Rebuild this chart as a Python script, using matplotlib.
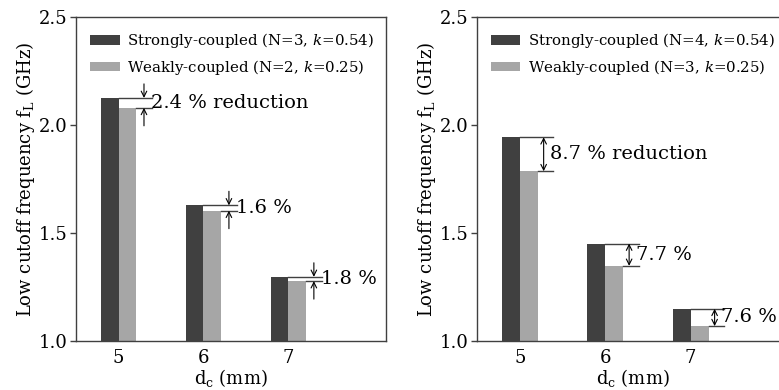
import numpy as np
import matplotlib.pyplot as plt

plt.rcParams['font.family'] = 'DejaVu Serif'
plt.rcParams['mathtext.fontset'] = 'dejavuserif'

# data
dc = [5, 6, 7]
strong_a = [2.125, 1.628, 1.297]
weak_a = [2.079, 1.603, 1.277]
pct_a = ['2.4 % reduction', '1.6 %', '1.8 %']
labels_a = ['Strongly-coupled (N=3, $k$=0.54)', 'Weakly-coupled (N=2, $k$=0.25)']

strong_b = [1.943, 1.451, 1.149]
weak_b = [1.786, 1.348, 1.069]
pct_b = ['8.7 % reduction', '7.7 %', '7.6 %']
labels_b = ['Strongly-coupled (N=4, $k$=0.54)', 'Weakly-coupled (N=3, $k$=0.25)']

dark = '#404040'
light = '#a6a6a6'
w = 0.21


def panel(ax, strong, weak, pct, labels, double):
    x = np.array(dc)
    ax.bar(x - w / 2, strong, w, color=dark, label=labels[0])
    ax.bar(x + w / 2, weak, w, color=light, label=labels[1])
    for i in range(len(x)):
        s, wk = strong[i], weak[i]
        xe = x[i] + 0.39
        ax.plot([x[i], xe], [s, s], color=dark, lw=1)
        ax.plot([x[i] + w, xe], [wk, wk], color=dark, lw=1)
        if double:
            xa = x[i] + 0.28
            ax.annotate('', xy=(xa, wk), xytext=(xa, s),
                        arrowprops=dict(arrowstyle='<->', lw=0.8, color='black',
                                        shrinkA=0, shrinkB=0))
            ax.text(x[i] + 0.36, (s + wk) / 2, pct[i], fontsize=14, va='center')
        else:
            xa = x[i] + 0.30
            ax.annotate('', xy=(xa, s), xytext=(xa, s + 0.065),
                        arrowprops=dict(arrowstyle='->', lw=0.8, color='black',
                                        shrinkA=0, shrinkB=0))
            ax.annotate('', xy=(xa, wk), xytext=(xa, wk - 0.083),
                        arrowprops=dict(arrowstyle='->', lw=0.8, color='black',
                                        shrinkA=0, shrinkB=0))
            ax.text(x[i] + 0.38, (s + wk) / 2, pct[i], fontsize=14, va='center')

    ax.set_xlim(4.5, 8.15)
    ax.set_ylim(1.0, 2.5)
    ax.set_xticks(dc)
    ax.set_yticks([1.0, 1.5, 2.0, 2.5])
    ax.set_yticklabels(['1.0', '1.5', '2.0', '2.5'])
    ax.tick_params(axis='x', length=0, pad=6, labelsize=13)
    ax.tick_params(axis='y', length=4, width=1, color=dark, labelsize=13, pad=2)
    for sp in ax.spines.values():
        sp.set_color(dark)
        sp.set_linewidth(1)
    ax.set_xlabel(r'$\mathrm{d_c}$ (mm)', fontsize=13, labelpad=0)
    ax.set_ylabel(r'Low cutoff frequency $\mathrm{f_L}$ (GHz)', fontsize=13, labelpad=1)
    ax.legend(loc='upper left', frameon=False, fontsize=10.8, handlelength=1.95,
              handleheight=0.6, handletextpad=0.5, labelspacing=0.5,
              borderaxespad=0.55)


fig = plt.figure(figsize=(7.79, 3.9), dpi=100)
ax1 = fig.add_axes([0.0976, 0.1256, 0.398, 0.831])
ax2 = fig.add_axes([0.6123, 0.1256, 0.4005, 0.831])

panel(ax1, strong_a, weak_a, pct_a, labels_a, False)
panel(ax2, strong_b, weak_b, pct_b, labels_b, True)

fig.savefig('out.png', dpi=100)
